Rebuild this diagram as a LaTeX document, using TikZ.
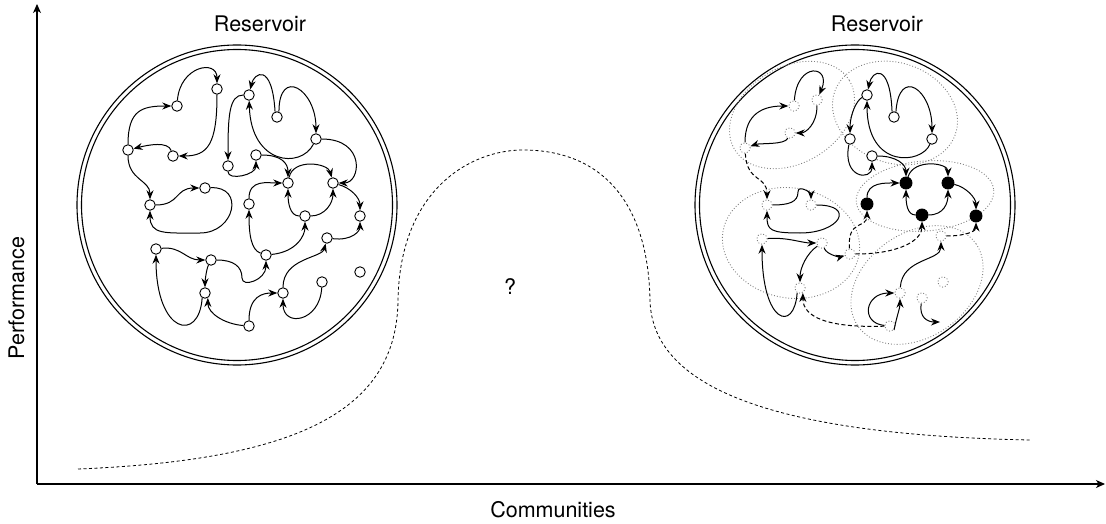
\documentclass[tikz,border=0pt]{standalone}
\usepackage{fontspec}
\setmainfont{TeX Gyre Heros}
\usetikzlibrary{arrows.meta}
\begin{document}
\begin{tikzpicture}[x=1pt,y=-1pt,
  nd/.style={circle,draw,fill=white,line width=0.9pt,minimum size=10.5pt,inner sep=0pt},
  dnd/.style={circle,draw=gray,dotted,fill=white,line width=0.9pt,minimum size=10.5pt,inner sep=0pt},
  bnd/.style={circle,draw,fill=black,line width=0.9pt,minimum size=12pt,inner sep=0pt},
  lnk/.style={line width=1pt,-{Stealth[length=9pt,width=7pt]}},
  dlnk/.style={lnk,dash pattern=on 4pt off 2.5pt},
  comm/.style={draw=gray,dotted,line width=0.9pt},
  ring/.style={line width=1.1pt},
  axis/.style={line width=1.1pt,-{Stealth[length=9pt,width=8pt,inset=2.5pt]}},
  lbl/.style={font=\fontsize{21.5}{25}\selectfont,inner sep=0pt}]
\useasboundingbox (0,0) rectangle (1106,524);

% axes
\coordinate (origin) at (37,484);
\coordinate (ytop) at (37,4);
\coordinate (xend) at (1105,484);
\draw[axis] (origin) -- (ytop);
\draw[axis] (origin) -- (xend);
\node[lbl,anchor=base,rotate=90] (ylab) at (24,298) {Performance};
\node[lbl,anchor=base] (xlab) at (553,517) {Communities};
\node[lbl] (qmark) at (510,287) {?};

% performance curve
\draw[line width=0.8pt,dash pattern=on 3pt off 2.5pt]
  (78,469) .. controls (300,460) and (397,410) .. (398,300)
           .. controls (400,190) and (470,150) .. (523,150)
           .. controls (600,150) and (648,200) .. (650,300)
           .. controls (652,390) and (780,435) .. (1030,440);

% reservoir boundaries
\node[lbl,anchor=base] (res1) at (260,32) {Reservoir};
\node[lbl,anchor=base] (res2) at (877,32) {Reservoir};
\draw[ring] (237,205) circle[radius=160];
\draw[ring] (237,205) circle[radius=155.5];
\draw[ring] (855,205) circle[radius=160];
\draw[ring] (855,205) circle[radius=155.5];

% ---------- unstructured reservoir ----------
\node[nd] (lA) at (217,89) {};
\node[nd] (lB) at (177,106) {};
\node[nd] (lC) at (128,150) {};
\node[nd] (lD) at (173,156) {};
\node[nd] (lE) at (249,95) {};
\node[nd] (lF) at (277,117) {};
\node[nd] (lG) at (316,139) {};
\node[nd] (lH) at (228,166) {};
\node[nd] (lI) at (256,155) {};
\node[nd] (lJ) at (288,183) {};
\node[nd] (lK) at (333,183) {};
\node[nd] (lL) at (205,188) {};
\node[nd] (lM) at (150,205) {};
\node[nd] (lN) at (249,204) {};
\node[nd] (lO) at (305,216) {};
\node[nd] (lP) at (360,216) {};
\node[nd] (lQ) at (327,238) {};
\node[nd] (lR) at (156,249) {};
\node[nd] (lS) at (211,260) {};
\node[nd] (lT) at (266,255) {};
\node[nd] (lU) at (205,293) {};
\node[nd] (lV) at (283,293) {};
\node[nd] (lW) at (322,282) {};
\node[nd] (lX) at (360,272) {};
\node[nd] (lY) at (249,326) {};

\draw[lnk] (lC) .. controls +(0,-40) and +(-35,0) .. (lB);
\draw[lnk] (lB) .. controls +(3,-40) and +(0,-30) .. (lA);
\draw[lnk] (lA) .. controls +(0,55) and +(35,0) .. (lD);
\draw[lnk] (lD) .. controls +(-5,-15) and +(20,-5) .. (lC);
\draw[lnk] (lC) .. controls +(0,30) and +(0,-25) .. (lM);
\draw[lnk] (lM) .. controls +(30,0) and +(-30,0) .. (lL);
\draw[lnk] (lL) .. controls +(40,-2) and +(35,0) .. (200,233) .. controls +(-35,0) and +(0,30) .. (lM);
\draw[lnk] (lE) .. controls +(-20,0) and +(0,-50) .. (lH);
\draw[lnk] (lH) .. controls +(0,15) and +(0,20) .. (lI);
\draw[lnk] (lF.110) .. controls +(-3,-50) and +(5,-22) .. (lE);
\draw[lnk] (lF.70) .. controls +(0,-45) and +(0,-50) .. (lG);
\draw[lnk] (lG) .. controls +(-15,30) and +(2,70) .. (lE);
\draw[lnk] (lI) .. controls +(25,0) and +(0,-20) .. (lJ);
\draw[lnk] (lG) .. controls +(50,0) and +(28,0) .. (lK);
\draw[lnk] (lJ) .. controls +(5,-25) and +(-5,-20) .. (lK);
\draw[lnk] (lK) .. controls +(18,5) and +(0,-18) .. (lP);
\draw[lnk] (lO) .. controls +(-15,0) and +(0,20) .. (lJ);
\draw[lnk] (lO) .. controls +(20,0) and +(0,20) .. (lK);
\draw[lnk] (lN) .. controls +(0,-25) and +(-20,0) .. (lJ);
\draw[lnk] (lT) .. controls +(-15,-5) and +(0,30) .. (lN);
\draw[lnk] (lT) .. controls +(30,-3) and +(0,20) .. (lO);
\draw[lnk] (lQ) .. controls +(25,3) and +(0,15) .. (lP);
\draw[lnk] (lR) .. controls +(25,-3) and +(-25,0) .. (lS);
\draw[lnk] (lS) .. controls +(22,0) and +(0,-12) .. (242,278) .. controls +(0,10) and +(0,25) .. (lT);
\draw[lnk] (lS) .. controls +(-5,10) and +(0,-10) .. (lU);
\draw[lnk] (lU.-120) .. controls +(-3,45) and +(0,85) .. (lR);
\draw[lnk] (lY) .. controls +(-25,-2) and +(0,15) .. (lU.-60);
\draw[lnk] (lY) .. controls +(0,-30) and +(-20,0) .. (lV);
\draw[lnk] (lV) .. controls +(0,-35) and +(-5,20) .. (lQ);
\draw[lnk] (lW) .. controls +(-2,40) and +(0,35) .. (lV);

% ---------- reservoir with communities ----------
\draw[comm,rotate around={31:(792,115)}] (792,115) ellipse[x radius=67,y radius=48];
\draw[comm,rotate around={-20:(895,113)}] (895,113) ellipse[x radius=64,y radius=50];
\draw[comm,rotate around={5:(925,196)}] (925,196) ellipse[x radius=69,y radius=35];
\draw[comm,rotate around={-10:(791,243)}] (791,243) ellipse[x radius=69,y radius=55];
\draw[comm,rotate around={35:(917,285)}] (917,285) ellipse[x radius=72,y radius=52];

\node[dnd] (a1) at (794,106) {};
\node[dnd] (a2) at (817,100) {};
\node[dnd] (a3) at (790,133) {};
\node[dnd] (a4) at (745,148) {};
\node[nd] (b1) at (867,95) {};
\node[nd] (b2) at (894,117) {};
\node[nd] (b3) at (932,139) {};
\node[nd] (b4) at (850,139) {};
\node[nd] (b5) at (872,156) {};
\node[bnd] (c1) at (867,204) {};
\node[bnd] (c2) at (906,183) {};
\node[bnd] (c3) at (948,183) {};
\node[bnd] (c4) at (922,215) {};
\node[bnd] (c5) at (976,216) {};
\node[dnd] (d1) at (767,205) {};
\node[dnd] (d2) at (811,205) {};
\node[dnd] (d3) at (762,239) {};
\node[dnd] (d4) at (822,243) {};
\node[dnd] (d5) at (850,254) {};
\node[dnd] (d6) at (800,288) {};
\node[dnd] (e1) at (900,293) {};
\node[dnd] (e2) at (922,298) {};
\node[dnd] (e3) at (943,282) {};
\node[dnd] (e4) at (890,326) {};
\node[dnd] (q) at (941,236) {};
\coordinate (xe) at (940,322);

\draw[lnk] (a4) .. controls +(0,-35) and +(-30,0) .. (a1);
\draw[lnk] (a1) .. controls +(3,-45) and +(15,-35) .. (a2);
\draw[lnk] (a2) .. controls +(0,25) and +(15,0) .. (a3);
\draw[lnk] (a3) .. controls +(-5,12) and +(15,-5) .. (a4);
\draw[dlnk] (a4) .. controls +(2,35) and +(0,-30) .. (d1);
\draw[lnk] (b1) .. controls +(-10,5) and +(0,-25) .. (b4);
\draw[lnk] (b2.110) .. controls +(-2,-50) and +(5,-25) .. (b1);
\draw[lnk] (b2.70) .. controls +(3,-45) and +(0,-50) .. (b3);
\draw[lnk] (b3) .. controls +(-10,25) and +(0,75) .. (b1);
\draw[lnk] (b4) .. controls +(-8,40) and +(0,25) .. (b5);
\draw[lnk] (b5) .. controls +(25,0) and +(0,-18) .. (c2);
\draw[lnk] (c1) .. controls +(0,-22) and +(-20,0) .. (c2);
\draw[lnk] (c2) .. controls +(8,-25) and +(0,-20) .. (c3);
\draw[lnk] (c3) .. controls +(18,4) and +(0,-18) .. (c5);
\draw[lnk] (c4) .. controls +(-15,0) and +(0,20) .. (c2);
\draw[lnk] (c4) .. controls +(22,0) and +(0,20) .. (c3);
\draw[dlnk] (d5) .. controls +(-3,-35) and +(0,25) .. (c1);
\draw[dlnk] (d5) .. controls +(50,0) and +(0,25) .. (c4);
\draw[lnk] (d1) .. controls +(22,0) and +(0,10) .. (798,192) .. controls +(0,-8) and +(0,-12) .. (d2);
\draw[lnk] (d2) .. controls +(45,0) and +(40,0) .. (800,233) .. controls +(-30,0) and +(0,25) .. (d1);
\draw[lnk] (d3) .. controls +(25,-2) and +(-20,0) .. (d4);
\draw[lnk] (d4) .. controls +(5,12) and +(-10,3) .. (d5);
\draw[lnk] (d4) .. controls +(-15,10) and +(0,-20) .. (d6);
\draw[lnk] (d6.-120) .. controls +(-3,40) and +(0,85) .. (d3);
\draw[dlnk] (e4) .. controls +(-60,2) and +(0,25) .. (d6.-60);
\draw[lnk] (e4) .. controls +(-30,-3) and +(-35,0) .. (e1);
\draw[lnk] (e4.-45) .. controls +(3,-15) and +(0,15) .. (e1);
\draw[lnk] (e2) .. controls +(-3,20) and +(-12,0) .. (xe);
\draw[lnk] (e1) .. controls +(2,-35) and +(0,25) .. (q);
\draw[dlnk] (q) .. controls +(25,0) and +(0,15) .. (c5);
\end{tikzpicture}
\end{document}
